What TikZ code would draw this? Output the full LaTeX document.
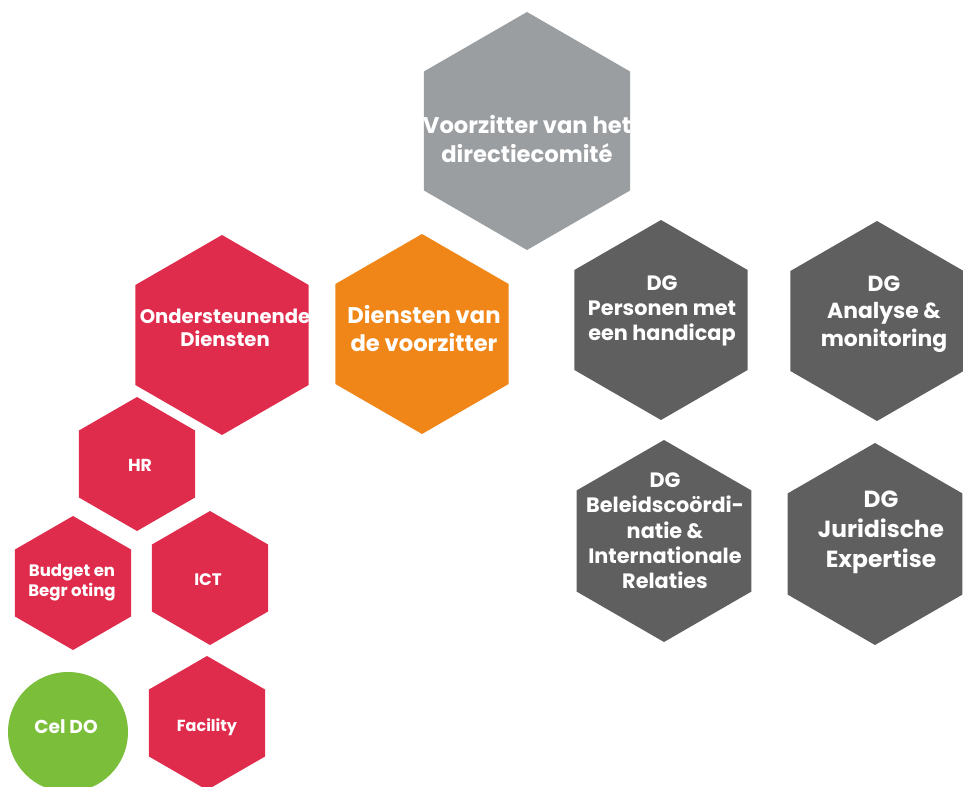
\documentclass[tikz,border=0pt]{standalone}
\usepackage{fontspec}
\setmainfont{Poppins}
\usetikzlibrary{shapes.geometric}
\definecolor{lichtgrijs}{RGB}{154,158,161}
\definecolor{donkergrijs}{RGB}{95,95,95}
\definecolor{rood}{RGB}{224,44,76}
\definecolor{oranje}{RGB}{240,134,24}
\definecolor{groen}{RGB}{122,190,58}
\tikzset{
  hexa/.style={regular polygon, regular polygon sides=6, shape border rotate=30,
    inner sep=0pt, outer sep=0pt, minimum size=#1},
  tekst/.style={text=white, align=center, inner sep=0pt}
}
\newcommand{\fs}[2]{\fontsize{#1}{#2}\bfseries\selectfont}

\begin{document}
\begin{tikzpicture}[x=0.75pt,y=-0.75pt]
  \useasboundingbox (0,0) rectangle (963,787);
  % bovenste rij
  \node[hexa=178.5pt, fill=lichtgrijs] (voorzitter) at (527,131) {};
  \node[tekst, font=\fs{17}{21.5}] (t-voorzitter) at (527,139) {Voorzitter van het\\directiecomité};
  \node[hexa=150pt, fill=rood] (ondersteunend) at (222,335) {};
  \node[tekst, font=\fs{14.7}{17.5}] (t-ondersteunend) at (225,328) {Ondersteunende\\Diensten};
  \node[hexa=150pt, fill=oranje] (diensten) at (422,334) {};
  \node[tekst, font=\fs{17}{21}] (t-diensten) at (424,329) {Diensten van\\de voorzitter};
  % directies-generaal
  \node[hexa=150pt, fill=donkergrijs] (personen) at (661,320) {};
  \node[tekst, font=\fs{15.6}{19}] (t-personen) at (662,311) {DG\\Personen met\\een handicap};
  \node[hexa=150pt, fill=donkergrijs] (analyse) at (877,321) {};
  \node[tekst, font=\fs{16.4}{20.5}] (t-analyse) at (884,314) {DG\\Analyse \&\\monitoring};
  \node[hexa=151.5pt, fill=donkergrijs] (beleid) at (664,541) {};
  \node[tekst, font=\fs{15.6}{19}] (t-beleid) at (665,531) {DG\\Beleidscoördi-\\natie \&\\Internationale\\Relaties};
  \node[hexa=151.5pt, fill=donkergrijs] (juridisch) at (875,544) {};
  \node[tekst, font=\fs{17.5}{22.5}] (t-juridisch) at (881,532) {DG\\Juridische\\Expertise};
  % ondersteunende diensten
  \node[hexa=100.5pt, fill=rood] (hr) at (137,464) {};
  \node[tekst, font=\fs{13}{14}] (t-hr) at (140,465) {HR};
  \node[hexa=100.5pt, fill=rood] (budget) at (73,583) {};
  \node[tekst, font=\fs{12.4}{15}] (t-budget) at (72,583) {Budget en\\Begr oting};
  \node[hexa=100.5pt, fill=rood] (ict) at (210,578) {};
  \node[tekst, font=\fs{12.5}{14}] (t-ict) at (208,580) {ICT};
  \node[hexa=100.5pt, fill=rood] (facility) at (207,723) {};
  \node[tekst, font=\fs{12}{14}] (t-facility) at (207,727) {Facility};
  \node[circle, fill=groen, inner sep=0pt, minimum size=90pt] (celdo) at (68,732) {};
  \node[tekst, font=\fs{14}{14}] (t-celdo) at (66,727) {Cel DO};
\end{tikzpicture}
\end{document}
